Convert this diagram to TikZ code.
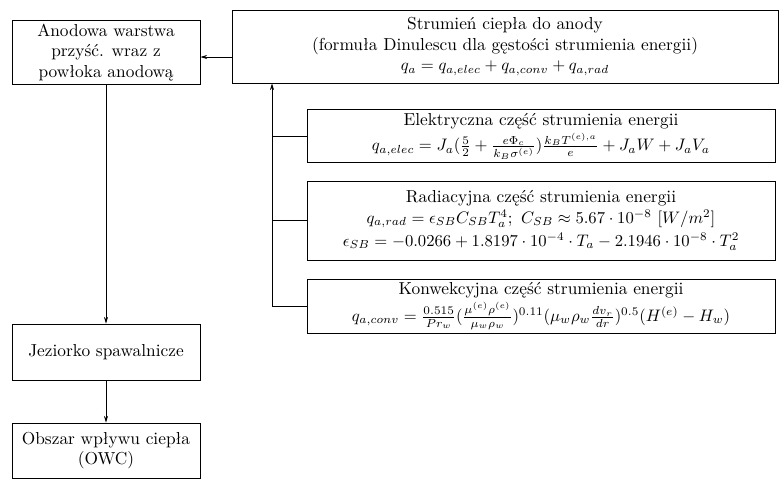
\documentclass[tikz,border=0pt]{standalone}
\usepackage{fontspec}
\usetikzlibrary{arrows.meta}
\begin{document}
\begin{tikzpicture}[x=1pt, y=-1pt, >={Stealth[length=4pt,width=2.4pt]},
    every node/.style={draw, rectangle, align=center, inner sep=2pt, line width=0.5pt, font=\fontsize{10.4}{12.4}\selectfont}]
    \useasboundingbox (0,0) rectangle (467.4,290.4);
    \node[minimum width=112.8pt, minimum height=37.8pt] (anode) at (63.6,31.5) {Anodowa warstwa\\ przyść. wraz z\\ powłoka anodową};
    \node[minimum width=112.8pt, minimum height=33.6pt] (pool) at (63.6,211.2) {Jeziorko spawalnicze};
    \node[minimum width=112.8pt, minimum height=33pt] (haz) at (63.6,270.3) {Obszar wpływu ciepła\\ (OWC)};
    \node[minimum width=327.6pt, minimum height=43.8pt] (heat) at (303,27.9) {Strumień ciepła do anody\\ (formuła Dinulescu dla gęstości strumienia energii)\\ $q_a = q_{a,elec} + q_{a,conv} + q_{a,rad}$};
    \node[minimum width=280.8pt, minimum height=31.2pt] (elec) at (324.6,81.6) {Elektryczna część strumienia energii\\[1.5pt] $q_{a,elec} = J_a(\frac{5}{2} + \frac{e\Phi_c}{k_B\sigma^{(e)}})\frac{k_BT^{(e),a}}{e} + J_aW + J_aV_a$};
    \node[minimum width=280.8pt, minimum height=47.4pt] (rad) at (324.6,132.3) {Radiacyjna część strumienia energii\\ $q_{a,rad} = \epsilon_{SB}C_{SB}T_a^4;\ C_{SB} \approx 5.67\cdot 10^{-8}\ [W/m^2]$\\[1.5pt] $\epsilon_{SB} = -0.0266 + 1.8197\cdot 10^{-4}\cdot T_a - 2.1946\cdot 10^{-8}\cdot T_a^2$};
    \node[minimum width=280.8pt, minimum height=32.4pt] (conv) at (324.6,183.6) {Konwekcyjna część strumienia energii\\[1.5pt] $q_{a,conv} = \frac{0.515}{Pr_w}(\frac{\mu^{(e)}\rho^{(e)}}{\mu_w\rho_w})^{0.11}(\mu_w\rho_w\frac{dv_r}{dr})^{0.5}(H^{(e)} - H_w)$};
    \coordinate (t) at (163.2,183.6);
    \foreach \from/\to in {anode/pool, pool/haz}
        \draw[->] (\from) -- (\to);
    \draw[->] ([yshift=-6.3pt]heat.west) -- ([yshift=-2.7pt]anode.east);
    \draw[->] (t) -- (t |- heat.south);
    \foreach \from in {elec, rad, conv}
        \draw (\from.west) -- (\from.west -| t);
\end{tikzpicture}
\end{document}
